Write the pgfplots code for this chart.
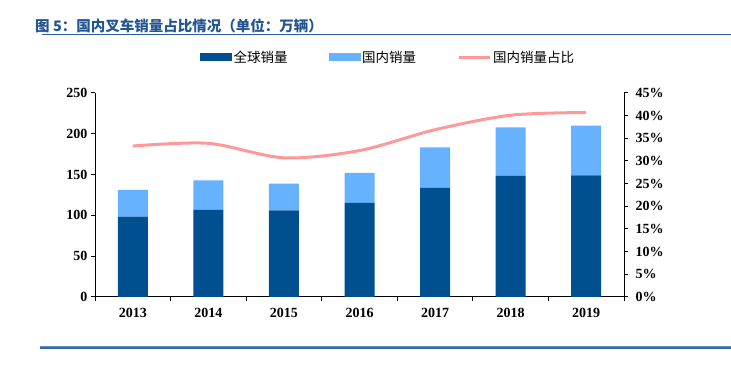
\documentclass[border=0pt]{standalone}
\usepackage{pgfplots}
\pgfplotsset{compat=1.18}
\usepackage{fontspec}
\setmainfont{Liberation Serif}
\newfontfamily\cjk{Noto Sans CJK SC}
\definecolor{darkbar}{RGB}{0,79,145}
\definecolor{lightbar}{RGB}{102,178,255}
\definecolor{pinkline}{RGB}{255,153,153}
\definecolor{titleblue}{RGB}{35,85,145}
\definecolor{ruleblue}{RGB}{46,96,160}
\begin{document}
\begin{tikzpicture}
\useasboundingbox (0pt,0pt) rectangle (731pt,366pt);
\node[anchor=west, inner sep=0pt, text=titleblue, font=\cjk\bfseries\fontsize{14.5}{15}\selectfont] at (35pt,340pt) {图 5：国内叉车销量占比情况（单位：万辆）};
\draw[ruleblue, line width=1.6pt] (42pt,331.5pt) -- (731pt,331.5pt);
\draw[ruleblue!70, line width=3pt] (40pt,18pt) -- (731pt,18pt);
\draw[ruleblue!110!black, line width=1.2pt] (40pt,18pt) -- (731pt,18pt);

\begin{axis}[
  at={(95pt,69pt)}, anchor=south west, scale only axis,
  width=529pt, height=204pt,
  xmin=-0.5, xmax=6.5, ymin=0, ymax=250,
  axis x line*=bottom, axis y line*=left,
  xtick={-0.5,0.5,...,6.5}, xticklabels={},
  extra x ticks={0,1,2,3,4,5,6},
  extra x tick labels={2013,2014,2015,2016,2017,2018,2019},
  extra x tick style={major tick length=0pt},
  xticklabel style={yshift=-8pt},
  ytick={0,50,...,250},
  tick align=outside, major tick length=4pt,
  axis line style={black, line width=1pt},
  tick style={black, line width=1pt},
  tick label style={font=\bfseries\fontsize{14}{14}\selectfont},
  /pgf/number format/assume math mode=true,
  ybar stacked, bar width=30pt,
]
\addplot[fill=darkbar, draw=none] coordinates {(0,98.4) (1,107.0) (2,106.2) (3,115.2) (4,133.6) (5,148.3) (6,149.1)};
\addplot[fill=lightbar, draw=none] coordinates {(0,32.9) (1,35.9) (2,32.8) (3,37.0) (4,49.7) (5,59.7) (6,60.8)};
\end{axis}

\begin{axis}[
  at={(95pt,69pt)}, anchor=south west, scale only axis,
  width=529pt, height=204pt,
  xmin=-0.5, xmax=6.5, ymin=0, ymax=45,
  axis y line*=right, axis x line=none,
  ytick={0,5,...,45},
  yticklabel={\pgfmathprintnumber{\tick}\%},
  yticklabel style={xshift=4pt},
  tick align=outside, major tick length=4pt,
  axis line style={black, line width=1pt},
  tick style={black, line width=1pt},
  tick label style={font=\bfseries\fontsize{14}{14}\selectfont},
  /pgf/number format/assume math mode=true,
  legend columns=3,
  legend style={draw=none, fill=none, at={(0.1985,1.176)}, anchor=west, inner sep=0pt,
    font=\cjk\fontsize{13.5}{14}\selectfont,
    /tikz/every even column/.append style={column sep=39pt}},
  legend cell align=left,
]
\addlegendimage{legend image code/.code={\fill[darkbar] (0pt,-3.5pt) rectangle (31pt,3.5pt);}}
\addlegendentry{全球销量}
\addlegendimage{legend image code/.code={\fill[lightbar] (0pt,-3.5pt) rectangle (31pt,3.5pt);}}
\addlegendentry{国内销量}
\addplot[pinkline, line width=3pt, smooth, mark=none,
  legend image code/.code={\draw[pinkline, line width=3pt] (0pt,0pt) -- (31pt,0pt);}]
  coordinates {(0,33.3) (1,33.9) (2,30.7) (3,32.3) (4,36.9) (5,40.1) (6,40.7)};
\addlegendentry{国内销量占比}
\end{axis}
\end{tikzpicture}
\end{document}
